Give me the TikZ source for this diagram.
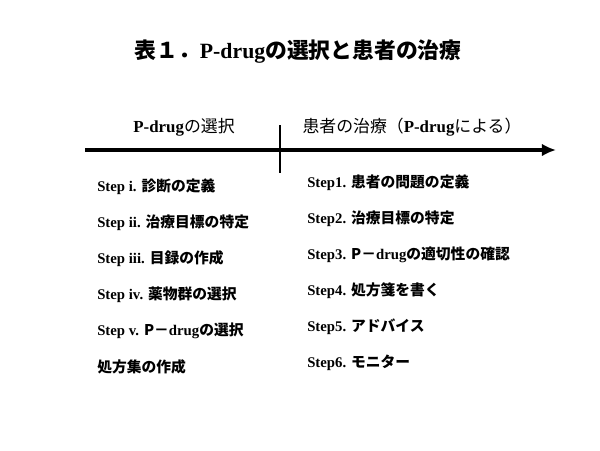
\documentclass[tikz,border=0pt]{standalone}
\usepackage{fontspec}
\setmainfont{Liberation Serif}
\newfontfamily\jp{Noto Sans CJK JP}
\usepackage{tikz}
\usepackage{xcolor}
\usetikzlibrary{arrows.meta}

\tikzset{
  steptext/.style={anchor=west, inner sep=0pt, font=\fontsize{10.5}{12}\selectfont\bfseries},
  headtext/.style={inner sep=0pt, font=\fontsize{12}{14}\selectfont}
}

\begin{document}
\begin{tikzpicture}[x=0.025cm, y=-0.025cm]
\useasboundingbox (0,0) rectangle (600,450);

\node[inner sep=0pt, font=\fontsize{15.5}{18}\selectfont\bfseries] (title) at (298,52)
  {{\jp 表１．}P-drug{\jp の選択と患者の治療}};

\node[headtext] (headL) at (184,127) {\textbf{P-drug}{\jp の選択}};
\node[headtext] (headR) at (412,127) {{\jp 患者の治療（}\textbf{P-drug}{\jp による）}};

\coordinate (axisL) at (85,150);
\coordinate (axisR) at (556,150);
\draw[line width=3pt, -{Latex[length=10pt,width=9pt]}] (axisL) -- (axisR);
\coordinate (tickT) at (280,125);
\coordinate (tickB) at (280,173);
\draw[line width=1.2pt] (tickT) -- (tickB);

\node[steptext] (li) at (97,187) {Step i. {\jp 診断の定義}};
\node[steptext] (lii) at (97,223) {Step ii. {\jp 治療目標の特定}};
\node[steptext] (liii) at (97,259) {Step iii. {\jp 目録の作成}};
\node[steptext] (liv) at (97,295) {Step iv. {\jp 薬物群の選択}};
\node[steptext] (lv) at (97,331) {Step v. {\jp P－}drug{\jp の選択}};
\node[steptext] (lvi) at (97,367) {{\jp 処方集の作成}};

\node[steptext] (r1) at (307,183) {Step1. {\jp 患者の問題の定義}};
\node[steptext] (r2) at (307,219) {Step2. {\jp 治療目標の特定}};
\node[steptext] (r3) at (307,255) {Step3. {\jp P－}drug{\jp の適切性の確認}};
\node[steptext] (r4) at (307,291) {Step4. {\jp 処方箋を書く}};
\node[steptext] (r5) at (307,327) {Step5. {\jp アドバイス}};
\node[steptext] (r6) at (307,363) {Step6. {\jp モニター}};
\end{tikzpicture}
\end{document}
